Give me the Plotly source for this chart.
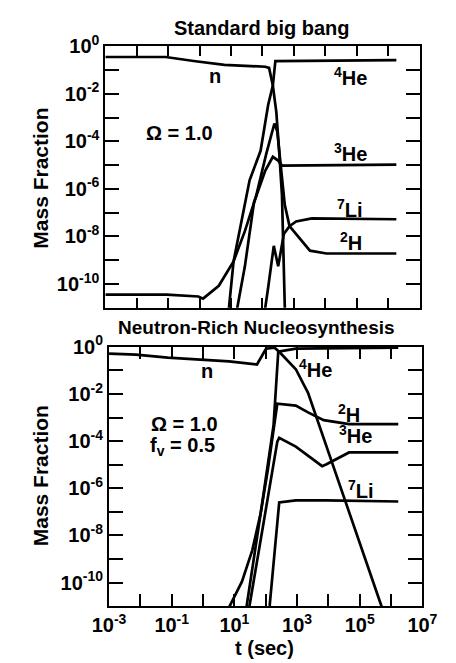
import plotly.graph_objects as go

W, H = 456, 663

# ---------------- data (log10 t [s], log10 mass fraction) ----------------
# Standard big bang (top panel)
sbb_n_lt = [-3.00, -1.08, -0.19, 0.79, 2.09, 2.21, 2.33, 2.44, 2.53, 2.62, 2.73]
sbb_n_lx = [-0.45, -0.45, -0.62, -0.78, -0.86, -0.91, -1.65, -2.76, -4.40, -6.26, -12.0]

sbb_he4_lt = [0.90, 0.935, 1.08, 1.32, 1.59, 1.94, 2.18, 2.33, 2.41, 6.26]
sbb_he4_lx = [-12.0, -10.99, -9.05, -7.41, -5.64, -4.40, -2.47, -1.65, -0.62, -0.58]

sbb_h2_lt = [-3.00, -2.05, -1.05, -0.04, 0.11, 0.61, 1.08, 1.44, 1.79, 2.12, 2.38, 2.47, 2.53, 2.62, 2.71, 2.86, 3.51, 4.04, 6.26]
sbb_h2_lx = [-10.45, -10.45, -10.45, -10.53, -10.62, -10.08, -9.05, -7.78, -6.34, -4.53, -3.25, -3.58, -4.40, -5.64, -6.67, -7.57, -8.60, -8.72, -8.72]

sbb_he3_lt = [1.19, 1.20, 1.44, 1.73, 2.09, 2.33, 2.50, 2.62, 6.26]
sbb_he3_lx = [-12.0, -10.99, -9.26, -6.58, -5.23, -4.65, -4.81, -5.02, -4.98]

sbb_li7_lt = [2.07, 2.09, 2.18, 2.36, 2.50, 2.68, 2.86, 3.07, 3.57, 6.26]
sbb_li7_lx = [-12.0, -10.99, -10.16, -8.40, -9.26, -7.90, -7.57, -7.37, -7.24, -7.28]

# Neutron-rich nucleosynthesis (bottom panel)
nr_n_lt = [-3.00, -2.14, -1.13, -0.15, 0.83, 1.72, 1.87, 2.01, 2.28, 2.43, 2.96, 3.35, 5.64, 5.96]
nr_n_lx = [-0.29, -0.33, -0.46, -0.54, -0.62, -0.75, -0.41, -0.08, -0.04, -0.21, -0.95, -1.95, -10.79, -12.0]

nr_he4_lt = [1.30, 1.39, 1.84, 2.25, 2.40, 2.96, 6.23]
nr_he4_lx = [-12.0, -11.0, -7.05, -3.32, -0.21, -0.08, -0.03]

nr_h2_lt = [0.47, 0.89, 1.24, 1.57, 1.84, 2.07, 2.28, 2.37, 2.96, 3.35, 3.85, 4.66, 6.23]
nr_h2_lx = [-12.0, -10.91, -9.96, -8.63, -7.05, -5.19, -3.32, -2.41, -2.49, -2.78, -3.11, -3.28, -3.28]

nr_he3_lt = [1.45, 1.48, 1.93, 2.25, 2.37, 2.43, 2.96, 3.80, 3.94, 4.66, 6.23]
nr_he3_lx = [-12.0, -11.0, -7.47, -4.98, -4.02, -3.86, -4.23, -5.06, -4.98, -4.48, -4.48]

nr_li7_lt = [2.10, 2.13, 2.43, 2.96, 3.94, 6.23]
nr_li7_lx = [-12.0, -10.91, -6.60, -6.51, -6.51, -6.56]

x_exps = list(range(-3, 8))
y_exps = list(range(-11, 1))
x_label_exps = [-3, -1, 1, 3, 5, 7]
y_label_exps = [0, -2, -4, -6, -8, -10]

# ---------------- figure ----------------
FONT = "Liberation Sans"
fig = go.Figure()

def add(lt, lx, xa, ya):
    fig.add_trace(go.Scatter(
        x=[10 ** v for v in lt], y=[10 ** v for v in lx],
        mode="lines", line=dict(color="black", width=2.7),
        xaxis=xa, yaxis=ya, showlegend=False, hoverinfo="skip"))

for lt, lx in [(sbb_n_lt, sbb_n_lx), (sbb_he4_lt, sbb_he4_lx), (sbb_h2_lt, sbb_h2_lx),
               (sbb_he3_lt, sbb_he3_lx), (sbb_li7_lt, sbb_li7_lx)]:
    add(lt, lx, "x", "y")
for lt, lx in [(nr_n_lt, nr_n_lx), (nr_he4_lt, nr_he4_lx), (nr_h2_lt, nr_h2_lx),
               (nr_he3_lt, nr_he3_lx), (nr_li7_lt, nr_li7_lx)]:
    add(lt, lx, "x2", "y2")

def pxx(x): return x / W
def pxy(y): return 1 - y / H

def sup(e):
    return "<b>10<sup>%d</sup></b>" % e

xtv = [10.0 ** e for e in x_exps]
ytv = [10.0 ** e for e in y_exps]
ytt = [sup(e) if e in y_label_exps else "" for e in y_exps]
xtt_bottom = [sup(e) if e in x_label_exps else "" for e in x_exps]

axis_common = dict(type="log", showgrid=False, zeroline=False, showline=True,
                   linecolor="black", linewidth=2, mirror="ticks", ticks="inside",
                   tickcolor="black", tickwidth=1.8,
                   tickfont=dict(family=FONT, size=20, color="black"))

fig.update_layout(
    width=W, height=H, margin=dict(l=0, r=0, t=0, b=0),
    paper_bgcolor="white", plot_bgcolor="white",
    xaxis=dict(axis_common, domain=[pxx(95), pxx(433)], range=[-3, 7], anchor="y",
               tickvals=xtv, ticktext=["" for _ in x_exps], ticklen=10),
    yaxis=dict(axis_common, domain=[pxy(300), pxy(33)], range=[-11, 0], anchor="x",
               tickvals=ytv, ticktext=ytt, ticklen=14),
    xaxis2=dict(axis_common, domain=[pxx(99), pxx(436)], range=[-3, 7], anchor="y2",
                tickvals=xtv, ticktext=xtt_bottom, ticklen=12),
    yaxis2=dict(axis_common, domain=[pxy(605), pxy(340)], range=[-11, 0], anchor="x2",
                tickvals=ytv, ticktext=ytt, ticklen=14),
)

def note(text, x, y, size=20, angle=0):
    fig.add_annotation(text="<b>%s</b>" % text, x=pxx(x), y=pxy(y), xref="paper", yref="paper",
                       showarrow=False, textangle=angle,
                       font=dict(family=FONT, size=size, color="black"),
                       xanchor="center", yanchor="middle")

# titles
note("Standard big bang", 263, 14, 20)
note("Neutron-Rich Nucleosynthesis", 258, 320, 19)
note("Mass Fraction", 25, 168, 21, -90)
note("Mass Fraction", 25, 472, 21, -90)
note("t (sec)", 266, 648, 20)

# top panel labels
note("n", 213, 63, 20)
note("<sup>4</sup>He", 359, 64, 20)
note("Ω = 1.0", 175, 122, 20)
note("<sup>3</sup>He", 359, 141, 20)
note("<sup>7</sup>Li", 358, 199, 20)
note("<sup>2</sup>H", 359, 232, 20)

# bottom panel labels
note("n", 204, 365, 20)
note("<sup>4</sup>He", 321, 362, 20)
note("<sup>2</sup>H", 357, 408, 20)
note("<sup>3</sup>He", 364, 430, 20)
note("<sup>7</sup>Li", 370, 486, 20)
note("Ω = 1.0", 180, 419, 20)
note("f<sub>v</sub> = 0.5", 178, 442, 20)

fig.write_html("out.html")
